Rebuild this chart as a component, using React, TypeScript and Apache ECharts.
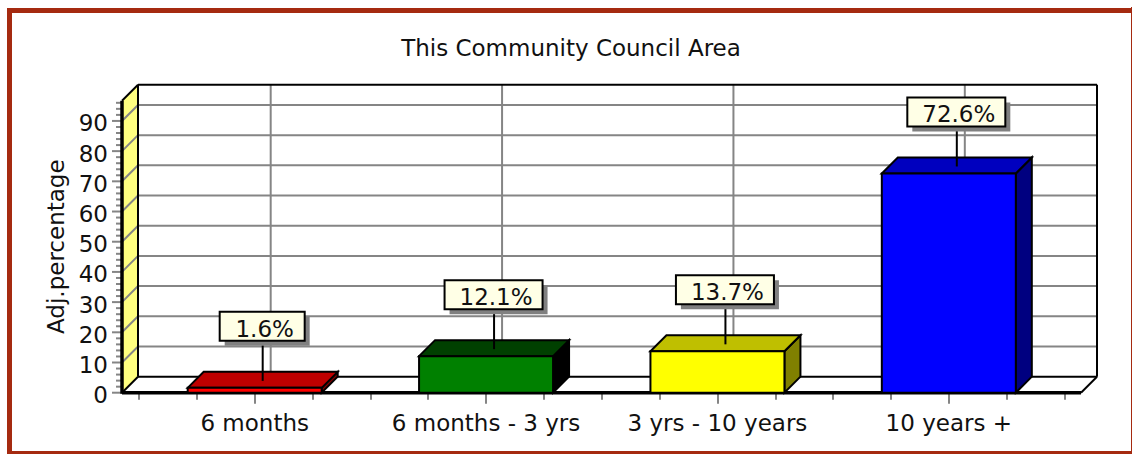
import React, { useEffect, useRef } from "react";
import * as echarts from "echarts";

const titleText = "This Community Council Area";
const yAxisName = "Adj.percentage";
const categories = ["6 months", "6 months - 3 yrs", "3 yrs - 10 years", "10 years +"];
const values = [1.6, 12.1, 13.7, 72.6];
const frontColors = ["#ff0000", "#008000", "#ffff00", "#0000ff"];
const topColors = ["#bf0000", "#004000", "#bfbf00", "#0000bf"];
const sideColors = ["#800000", "#000000", "#808000", "#000080"];
const majorTicks = [0, 10, 20, 30, 40, 50, 60, 70, 80, 90];
const minorTicks = [
  2, 4, 6, 8, 12, 14, 16, 18, 22, 24, 26, 28, 32, 34, 36, 38, 42, 44, 46, 48, 52, 54, 56, 58,
  62, 64, 66, 68, 72, 74, 76, 78, 82, 84, 86, 88, 92, 94, 96,
];

const Y_MAX = 96.7;
const D = 16;
const GRAY = "#858585";
const FONT = "'DejaVu Sans', Verdana, sans-serif";
const TEXT = "#111";
const BORDER = "#a52a10";

const line = (x1: number, y1: number, x2: number, y2: number, stroke: string, lineWidth: number) => ({
  type: "line",
  shape: { x1, y1, x2, y2 },
  style: { stroke, lineWidth },
});

function renderFrame(_: any, api: any) {
  const [xl, yb] = api.coord([0, 0]);
  const [xr, yt] = api.coord([1, Y_MAX]);
  const children: any[] = [
    { type: "rect", shape: { x: xl + D, y: yt - D, width: xr - xl, height: yb - yt }, style: { fill: "#fff" } },
    {
      type: "polygon",
      shape: { points: [[xl, yb], [xl, yt], [xl + D, yt - D], [xl + D, yb - D]] },
      style: { fill: "#ffff80" },
    },
    {
      type: "polygon",
      shape: { points: [[xl, yb], [xl + D, yb - D], [xr + D, yb - D], [xr, yb]] },
      style: { fill: "#fff" },
    },
  ];
  majorTicks.forEach((v) => {
    const y = api.coord([0, v])[1];
    if (v > 0) {
      children.push({
        type: "polyline",
        shape: { points: [[xl, y], [xl + D, y - D], [xr + D, y - D]] },
        style: { stroke: GRAY, lineWidth: 2, fill: "none" },
      });
    }
    children.push(line(xl - 10, y, xl, y, GRAY, 2));
  });
  minorTicks.forEach((v) => {
    const y = api.coord([0, v])[1];
    children.push(line(xl - 6, y, xl, y, GRAY, 2));
  });
  return { type: "group", children };
}

function renderFrameLines(_: any, api: any) {
  const [xl, yb] = api.coord([0, 0]);
  const [xr, yt] = api.coord([1, Y_MAX]);
  return {
    type: "group",
    children: [
      line(xl + D, yt - D, xr + D, yt - D, "#000", 2),
      line(xr + D, yt - D, xr + D, yb - D, "#000", 2),
      line(xl + D, yb - D, xr + D, yb - D, "#000", 2),
      line(xl + D, yt - D, xl + D, yb - D, "#000", 2),
      line(xl, yt, xl + D, yt - D, "#000", 2),
      line(xl, yb, xl + D, yb - D, "#000", 2),
      line(xr, yb, xr + D, yb - D, "#000", 2),
      line(xl, yt, xl, yb + 1, "#000", 3.5),
      line(xl, yb, xr, yb, "#000", 3.5),
    ],
  };
}

function renderGridV(_: any, api: any) {
  const i = api.value(0);
  const [x, yb] = api.coord([i, 0]);
  const yt = api.coord([i, Y_MAX])[1];
  return line(x + D, yt - D, x + D, yb - D, GRAY, 2);
}

const BAR_W = 134;

function renderBar(_: any, api: any) {
  const i = api.value(0);
  const v = api.value(1);
  const [cx, yb] = api.coord([i, 0]);
  const yt = api.coord([i, v])[1];
  const xl = cx - BAR_W / 2;
  const xr = cx + BAR_W / 2;
  const edge = { stroke: "#000", lineWidth: 2, lineJoin: "miter" };
  return {
    type: "group",
    children: [
      {
        type: "polygon",
        shape: { points: [[xr, yt], [xr + D, yt - D], [xr + D, yb - D], [xr, yb]] },
        style: { fill: sideColors[i], ...edge },
      },
      {
        type: "polygon",
        shape: { points: [[xl, yt], [xl + D, yt - D], [xr + D, yt - D], [xr, yt]] },
        style: { fill: topColors[i], ...edge },
      },
      {
        type: "rect",
        shape: { x: xl, y: yt, width: BAR_W, height: yb - yt },
        style: { fill: frontColors[i], ...edge },
      },
    ],
  };
}

function renderCallout(_: any, api: any) {
  const i = api.value(0);
  const v = api.value(1);
  const [cx] = api.coord([i, 0]);
  const yt = api.coord([i, v])[1];
  const ax = cx + D / 2;
  const ay = yt - D / 2;
  const label = v.toFixed(1) + "%";
  const w = label.length * 13 + 33;
  const h = 29;
  const bx = ax - w / 2 - 0.5;
  const by = ay - 39 - h;
  return {
    type: "group",
    children: [
      line(ax, by + h + 4, ax, ay + 1, "#000", 2),
      { type: "rect", shape: { x: bx + 5, y: by + 5, width: w, height: h }, style: { fill: "#808080" } },
      {
        type: "rect",
        shape: { x: bx, y: by, width: w, height: h },
        style: { fill: "#ffffe6", stroke: "#000", lineWidth: 2 },
      },
      {
        type: "text",
        x: ax + 2,
        y: by + h / 2 + 2.5,
        style: { text: label, fill: TEXT, font: `23px ${FONT}`, align: "center", verticalAlign: "middle" },
      },
    ],
  };
}

const rows = values.map((v, i) => [i, v]);

export default function App() {
  const ref = useRef<HTMLDivElement>(null);
  useEffect(() => {
    document.body.style.margin = "0";
    const chart = echarts.init(ref.current!, undefined, { renderer: "svg" });
    chart.setOption({
      animation: false,
      backgroundColor: "#fff",
      title: {
        text: titleText,
        left: 566,
        top: 31.5,
        textAlign: "center",
        textStyle: { fontFamily: FONT, fontSize: 23, fontWeight: "normal", color: TEXT },
      },
      grid: [
        { left: 122, width: 959, top: 100.7, height: 292 },
        { left: 139, width: 925.5, top: 100.7, height: 292 },
      ],
      xAxis: [
        { type: "value", gridIndex: 0, min: 0, max: 1, show: false },
        {
          type: "category",
          gridIndex: 1,
          position: "bottom",
          data: categories,
          axisLine: { show: false },
          axisTick: { show: true, alignWithLabel: true, length: 11, lineStyle: { color: GRAY, width: 2 } },
          axisLabel: { fontFamily: FONT, fontSize: 23, color: TEXT, margin: 18.5, interval: 0 },
          splitLine: { show: false },
        },
        {
          type: "value",
          gridIndex: 1,
          position: "bottom",
          min: 0,
          max: 16,
          interval: 1,
          axisLine: { show: false },
          axisTick: { show: true, length: 7, lineStyle: { color: GRAY, width: 2 } },
          axisLabel: { show: false },
          splitLine: { show: false },
        },
      ],
      yAxis: [
        {
          type: "value",
          gridIndex: 0,
          min: 0,
          max: Y_MAX,
          interval: 10,
          name: yAxisName,
          nameLocation: "middle",
          nameGap: 48,
          nameRotate: 90,
          nameTextStyle: { fontFamily: FONT, fontSize: 23, color: TEXT },
          axisLine: { show: false },
          axisTick: { show: false },
          axisLabel: {
            fontFamily: FONT,
            fontSize: 23,
            color: TEXT,
            margin: 14,
            showMaxLabel: false,
            verticalAlign: "top",
            lineHeight: 5,
          },
          splitLine: { show: false },
        },
        { type: "value", gridIndex: 1, min: 0, max: Y_MAX, show: false },
      ],
      graphic: [
        { type: "rect", shape: { x: 7, y: 8, width: 1125, height: 5 }, style: { fill: BORDER }, z: 100 },
        { type: "rect", shape: { x: 7, y: 8, width: 5, height: 446 }, style: { fill: BORDER }, z: 100 },
        { type: "rect", shape: { x: 1131, y: 7, width: 1, height: 447 }, style: { fill: BORDER }, z: 100 },
        { type: "rect", shape: { x: 7, y: 451, width: 1125, height: 3 }, style: { fill: BORDER }, z: 100 },
      ],
      series: [
        { type: "custom", xAxisIndex: 0, yAxisIndex: 0, data: [[0, 0]], renderItem: renderFrame, z: 1, silent: true },
        { type: "custom", xAxisIndex: 1, yAxisIndex: 1, data: rows, renderItem: renderGridV, z: 2, silent: true },
        { type: "custom", xAxisIndex: 0, yAxisIndex: 0, data: [[0, 0]], renderItem: renderFrameLines, z: 3, silent: true },
        { type: "custom", xAxisIndex: 1, yAxisIndex: 1, data: rows, renderItem: renderBar, z: 4, silent: true },
        { type: "custom", xAxisIndex: 1, yAxisIndex: 1, data: rows, renderItem: renderCallout, z: 5, silent: true },
      ],
    });
    return () => chart.dispose();
  }, []);
  return <div ref={ref} style={{ width: 1132, height: 454 }} />;
}
